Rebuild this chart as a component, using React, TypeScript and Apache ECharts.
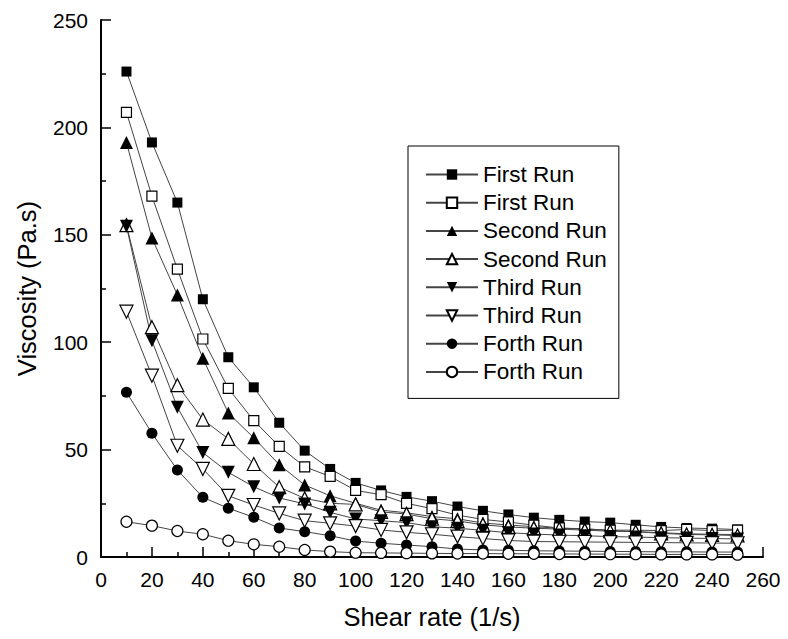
import React, { useEffect, useRef } from "react";
import * as echarts from "echarts";

const shearRate = [10, 20, 30, 40, 50, 60, 70, 80, 90, 100, 110, 120, 130, 140, 150, 160, 170, 180, 190, 200, 210, 220, 230, 240, 250];

const firstRunFilled = [226, 193, 165, 120, 93, 79, 62.5, 49.5, 41, 34.5, 31, 28, 26, 23.5, 21.5, 19.8, 18.3, 17.3, 16.5, 16, 15, 14, 13.5, 13.2, 12.8];
const firstRunOpen = [207, 168, 134, 101.5, 78.5, 63.5, 51.5, 42, 37.5, 31, 29, 25, 22.5, 19.5, 17.5, 16.3, 14.8, 13.5, 13, 12.5, 12.5, 12.3, 12.8, 12.3, 12.5];
const secondRunFilled = [193, 148.5, 122, 92.5, 67, 55.5, 43, 33.5, 28.5, 25, 21.8, 20.6, 18.8, 17.8, 15.8, 14.9, 14.1, 13.4, 13.2, 12.3, 11.8, 11.3, 10.8, 10.6, 10.4];
const secondRunOpen = [154.5, 107, 80, 64, 55, 43.3, 32.5, 27.3, 25, 24.5, 21, 20, 17.8, 16.8, 15, 14, 13.4, 13, 12.5, 12, 11.8, 11, 10.5, 10.3, 10];
const thirdRunFilled = [154, 100.7, 69.7, 48.6, 39.4, 32.7, 27.5, 24.7, 20.8, 17.7, 16.9, 16, 14.1, 13.4, 12.4, 11.3, 10.7, 10.2, 9.9, 9.5, 9.3, 9.0, 8.8, 8.6, 8.4];
const thirdRunOpen = [114.2, 84.4, 51.8, 41, 28.5, 24.2, 20.3, 16.9, 15.7, 14.4, 12.6, 11.5, 10.6, 9.5, 8.6, 7.7, 7.2, 7.1, 7.0, 6.9, 6.8, 6.7, 6.6, 6.5, 6.4];
const forthRunFilled = [76.7, 57.6, 40.5, 27.8, 22.7, 18.5, 13.5, 11.8, 9.9, 7.4, 6.4, 5.6, 4.8, 3.7, 3.3, 3.1, 2.9, 2.8, 2.7, 2.6, 2.5, 2.4, 2.4, 2.3, 2.3];
const forthRunOpen = [16.4, 14.6, 12.1, 10.6, 7.6, 5.9, 4.8, 3.3, 2.5, 2.0, 1.9, 1.8, 1.7, 1.6, 1.6, 1.5, 1.5, 1.4, 1.4, 1.3, 1.3, 1.2, 1.2, 1.2, 1.1];

const seriesLabels = ["First Run", "First Run", "Second Run", "Second Run", "Third Run", "Third Run", "Forth Run", "Forth Run"];
const seriesValues = [firstRunFilled, firstRunOpen, secondRunFilled, secondRunOpen, thirdRunFilled, thirdRunOpen, forthRunFilled, forthRunOpen];
const seriesSymbols = ["rect", "rect", "triangle", "triangle", "triangle", "triangle", "circle", "circle"];
const seriesRotate = [0, 0, 0, 0, 180, 180, 0, 0];
const seriesFilled = [true, false, true, false, true, false, true, false];

const FONT = "'Liberation Sans', Arial, sans-serif";

export default function App() {
  const ref = useRef<HTMLDivElement>(null);
  useEffect(() => {
    if (!ref.current) return;
    const chart = echarts.init(ref.current, null, { renderer: "svg" });
    const sizes: Record<string, number> = { rect: 10, triangle: 13, circle: 11 };
    const series = seriesValues.map((vals, i) => ({
      type: "line",
      name: seriesLabels[i] + "#" + i,
      data: vals.map((v, j) => [shearRate[j], v]),
      symbol: seriesSymbols[i],
      symbolSize: sizes[seriesSymbols[i]],
      symbolRotate: seriesRotate[i],
      showAllSymbol: true,
      clip: false,
      lineStyle: { color: "#444", width: 1 },
      itemStyle: seriesFilled[i]
        ? { color: "#000", borderColor: "#000", borderWidth: 0 }
        : { color: "#fff", borderColor: "#000", borderWidth: 1.2 },
      emphasis: { disabled: true },
    }));
    chart.setOption({
      animation: false,
      grid: { left: 101, top: 20, right: 25, bottom: 82 },
      legend: {
        orient: "vertical",
        left: 408,
        top: 146,
        padding: [17, 12, 15, 17],
        borderColor: "#000",
        borderWidth: 1,
        itemWidth: 52,
        itemHeight: 13,
        itemGap: 5.2,
        selectedMode: false,
        formatter: (name: string) => name.split("#")[0],
        textStyle: { fontFamily: FONT, fontSize: 22.5, color: "#000" },
        data: seriesValues.map((_, i) => seriesLabels[i] + "#" + i),
      },
      xAxis: {
        type: "value",
        min: 0,
        max: 260,
        interval: 20,
        name: "Shear rate (1/s)",
        nameLocation: "middle",
        nameGap: 47,
        nameTextStyle: { fontFamily: FONT, fontSize: 25.5, color: "#000" },
        axisLine: { show: true, onZero: false, lineStyle: { color: "#000", width: 2 } },
        axisTick: { show: true, inside: true, length: 10, lineStyle: { color: "#000", width: 1.5 } },
        minorTick: { show: true, splitNumber: 2, length: 5, lineStyle: { color: "#000", width: 1.5 } },
        splitLine: { show: false },
        axisLabel: { fontFamily: FONT, fontSize: 21, color: "#000", margin: 12 },
      },
      yAxis: {
        type: "value",
        min: 0,
        max: 250,
        interval: 50,
        name: "Viscosity (Pa.s)",
        nameLocation: "middle",
        nameGap: 61,
        nameTextStyle: { fontFamily: FONT, fontSize: 25.5, color: "#000" },
        axisLine: { show: true, onZero: false, lineStyle: { color: "#000", width: 2 } },
        axisTick: { show: true, inside: true, length: 10, lineStyle: { color: "#000", width: 1.5 } },
        minorTick: { show: true, splitNumber: 2, length: 5, lineStyle: { color: "#000", width: 1.5 } },
        splitLine: { show: false },
        axisLabel: { fontFamily: FONT, fontSize: 21, color: "#000", margin: 13 },
      },
      series,
    });
    return () => chart.dispose();
  }, []);
  return <div ref={ref} style={{ position: "fixed", left: 0, top: 0, width: 788, height: 639, background: "#fff" }} />;
}
